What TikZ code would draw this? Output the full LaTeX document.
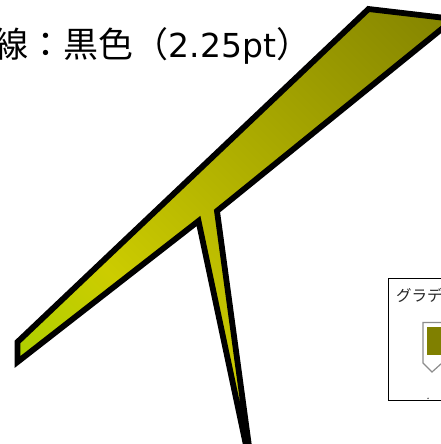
\documentclass[tikz,border=0pt]{standalone}
\usepackage{fontspec}
\newfontfamily\jp{Noto Sans CJK JP}
\newfontfamily\dv{DejaVu Sans}
\definecolor{ygreen}{RGB}{172,208,0}
\definecolor{yel}{RGB}{204,204,0}
\definecolor{olv}{RGB}{128,128,0}
\definecolor{markgray}{RGB}{140,140,140}
\pgfdeclarehorizontalshading{armshade}{100bp}{color(0bp)=(ygreen); color(26bp)=(ygreen); color(39bp)=(yel); color(84bp)=(olv); color(100bp)=(olv)}
\tikzset{
  outline/.style={line width=5.8pt, draw=black, line join=miter},
  legendbox/.style={draw=black, line width=1.3pt, fill=white, inner sep=0pt},
  stopmark/.style={draw=markgray, line width=1.2pt, fill=white},
  titletext/.style={anchor=base west, inner sep=0pt, font=\fontsize{35}{40}\jp},
  smalltext/.style={anchor=base west, inner sep=0pt, font=\fontsize{15.5}{18}\jp, text=black!85}
}
\begin{document}
\begin{tikzpicture}[x=1pt,y=-1pt]
\useasboundingbox (0,0) rectangle (441,444);
\clip (0,0) rectangle (441,444);
% shape vertices
\coordinate (F) at (17.5,362);
\coordinate (A) at (17.5,342);
\coordinate (B) at (368.5,9);
\coordinate (C) at (454,19);
\coordinate (D) at (217,211);
\coordinate (G) at (254,483);
\coordinate (E) at (198.5,221);
\begin{scope}
  \clip (F) -- (A) -- (B) -- (C) -- (D) -- (G) -- (E) -- cycle;
  \shade[shading=armshade, shading angle=45] (-14,-4) rectangle (486,496);
\end{scope}
\draw[outline] (F) -- (A) -- (B) -- (C) -- (D) -- (G) -- (E) -- cycle;
% title
\node[titletext] (title) at (-6.5,58) {線：黒色（{\fontsize{33}{40}\dv 2.25pt}）};
% legend
\node[legendbox, anchor=north west, minimum width=64pt, minimum height=122pt] (legend) at (388,278) {};
\node[smalltext] (lgtext) at (396,301.5) {グラデ};
\draw[stopmark] (423,322.5) -- (442,322.5) -- (442,363) -- (432,372) -- (423,363) -- cycle;
\fill[olv] (426.5,326.5) rectangle (442,355);
\fill[black!70] (428,398.3) circle (0.8);
\end{tikzpicture}
\end{document}
